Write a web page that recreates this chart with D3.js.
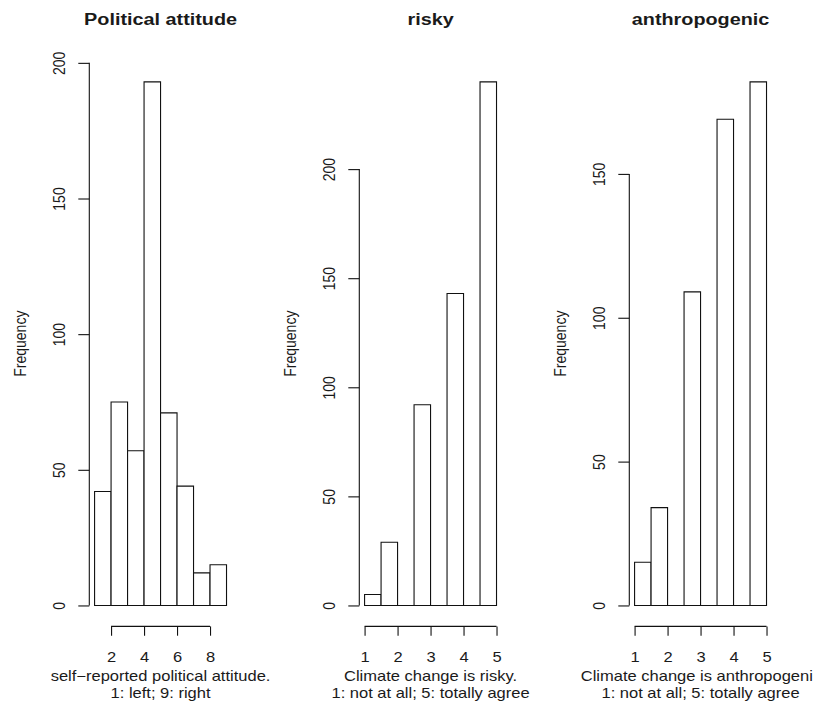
<!DOCTYPE html>
<html><head><meta charset="utf-8">
<script src="https://cdn.jsdelivr.net/npm/d3@7"></script>
<style>html,body{margin:0;padding:0;background:#fff;} svg{display:block;}</style>
</head><body><svg id="chart" width="814" height="708"></svg>
<script>
const panelTitles = ["Political attitude", "risky", "anthropogenic"];
const politicalBreaks = [1, 2, 3, 4, 5, 6, 7, 8, 9];
const politicalCounts = [42, 75, 57, 193, 71, 44, 12, 15];
const politicalXTicks = [2, 4, 6, 8];
const politicalYTicks = [0, 50, 100, 150, 200];
const riskyBreaks = [1, 1.5, 2, 2.5, 3, 3.5, 4, 4.5, 5];
const riskyCounts = [5, 29, 0, 92, 0, 143, 0, 240];
const riskyXTicks = [1, 2, 3, 4, 5];
const riskyYTicks = [0, 50, 100, 150, 200];
const anthroBreaks = [1, 1.5, 2, 2.5, 3, 3.5, 4, 4.5, 5];
const anthroCounts = [15, 34, 0, 109, 0, 169, 0, 182];
const anthroXTicks = [1, 2, 3, 4, 5];
const anthroYTicks = [0, 50, 100, 150];
const xLabels = [
  ["self\u2212reported political attitude.", "1: left; 9: right"],
  ["Climate change is risky.", "1: not at all; 5: totally agree"],
  ["Climate change is anthropogeni", "1: not at all; 5: totally agree"]
];
const yLabel = "Frequency";

const panels = [
  {title: panelTitles[0], breaks: politicalBreaks, counts: politicalCounts, xt: politicalXTicks, yt: politicalYTicks, xlab: xLabels[0]},
  {title: panelTitles[1], breaks: riskyBreaks, counts: riskyCounts, xt: riskyXTicks, yt: riskyYTicks, xlab: xLabels[1]},
  {title: panelTitles[2], breaks: anthroBreaks, counts: anthroCounts, xt: anthroXTicks, yt: anthroYTicks, xlab: xLabels[2]}
];

const sx = 1.18;            // horizontal stretch of the original image
const plotTop = 60.9, plotBottom = 626.4;
const firstLeft = 89.3, step = 270, plotW = 142.5;
const font = "'Liberation Sans', Arial, Helvetica, sans-serif";
const ink = "#1a1a1a";
const W = 814;

const svg = d3.select("#chart");

panels.forEach((p, i) => {
  const left = firstLeft + step * i, right = left + plotW;
  const bmin = d3.min(p.breaks), bmax = d3.max(p.breaks);
  const xr = bmax - bmin;
  const x = d3.scaleLinear().domain([bmin - 0.04 * xr, bmax + 0.04 * xr]).range([left, right]);
  const ymax = d3.max(p.counts);
  const y = d3.scaleLinear().domain([-0.04 * ymax, 1.04 * ymax]).range([plotBottom, plotTop]);
  const g = svg.append("g");

  // bars
  const bins = p.counts.map((c, k) => ({x0: p.breaks[k], x1: p.breaks[k + 1], c}));
  g.selectAll("path.bar").data(bins).join("path")
    .attr("class", "bar")
    .attr("d", d => `M${x(d.x0)},${y(0)}V${y(d.c)}H${x(d.x1)}V${y(0)}Z`)
    .attr("fill", "#fff").attr("stroke", "#111").attr("stroke-width", 1.1);

  // x axis
  const xa = g.append("g").attr("transform", `translate(0,${plotBottom})`)
    .call(d3.axisBottom(x).tickValues(p.xt).tickSize(9.3).tickSizeOuter(0).tickFormat(d3.format("d")));
  xa.select(".domain").attr("d", `M${x(p.xt[0])},0H${x(p.xt[p.xt.length - 1])}`).attr("stroke", "#111").attr("stroke-width", 1.1);
  xa.selectAll(".tick line").attr("stroke", "#111").attr("stroke-width", 1.1);
  xa.selectAll(".tick text").attr("y", 0).attr("dy", null)
    .attr("transform", `translate(0,${662 - plotBottom}) scale(${sx},1)`)
    .attr("font-family", font).attr("font-size", 14).attr("fill", ink);

  // y axis
  const ya = g.append("g").attr("transform", `translate(${left},0)`)
    .call(d3.axisLeft(y).tickValues(p.yt).tickSize(11).tickSizeOuter(0).tickFormat(d3.format("d")));
  ya.select(".domain").attr("d", `M0,${y(p.yt[0])}V${y(p.yt[p.yt.length - 1])}`).attr("stroke", "#111").attr("stroke-width", 1.1);
  ya.selectAll(".tick line").attr("stroke", "#111").attr("stroke-width", 1.1);
  ya.selectAll(".tick text").attr("x", 0).attr("dy", null).attr("y", 0)
    .attr("text-anchor", "middle")
    .attr("transform", `translate(-24,0) scale(${sx},1) rotate(-90)`)
    .attr("font-family", font).attr("font-size", 14).attr("fill", ink);

  const cx = (left + right) / 2;
  // title
  g.append("text").attr("transform", `translate(${cx},25) scale(${sx},1)`)
    .attr("text-anchor", "middle").attr("font-family", font).attr("font-weight", "bold")
    .attr("font-size", 16.8).attr("fill", ink).text(p.title);
  // x label (two lines); the last panel's first line is cut by the figure edge in the original,
  // so its visible part is right-aligned just inside the edge
  [681, 698].forEach((yy, k) => {
    const t = g.append("text").attr("font-family", font)
      .attr("font-size", 14).attr("fill", ink).text(p.xlab[k]);
    const wTxt = t.node().getComputedTextLength() * sx;
    let ax = cx;
    if (ax + wTxt / 2 > W - 1) ax = W - 1 - wTxt / 2;
    t.attr("text-anchor", "middle").attr("transform", `translate(${ax},${yy}) scale(${sx},1)`);
  });
  // y label
  g.append("text").attr("transform", `translate(${left - 63},${(plotTop + plotBottom) / 2}) scale(${sx},1) rotate(-90)`)
    .attr("text-anchor", "middle").attr("font-family", font)
    .attr("font-size", 14).attr("fill", ink).text(yLabel);
});
</script>
</body></html>
